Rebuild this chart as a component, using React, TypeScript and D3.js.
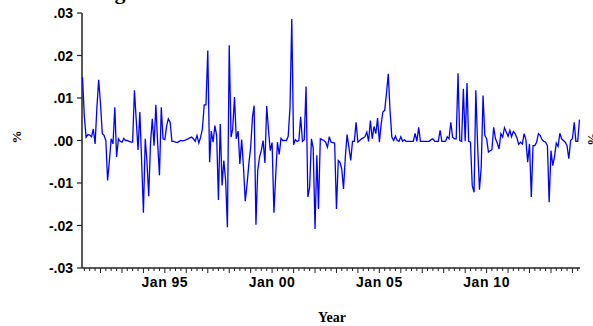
import React from "react";
import * as d3 from "d3";

// Monthly series (values in %-units of 0.01), starting March 1991
const startDate = new Date(1991, 2, 1);
const seriesValues: number[] = [
  // 1991-1996
  1.49, 0.55, 0.08, 0.14, 0.13, 0.09, 0.27, -0.08, 0.78, 1.43,
  0.86, 0.16, 0.12, 0.0, -0.94, -0.47, 0.04, -0.08, 0.78, -0.39,
  0.04, -0.02, -0.04, 0.05, 0.0, 0.0, -0.02, -0.04, -0.04, 1.18, 0.47,
  -0.22, 0.67, -0.47, -1.7, 0.04, -0.47, -1.31, -0.08, 0.51, -0.12,
  0.84, -0.08, -0.82, 0.78, 0.04, 0.02, 0.35, 0.51, 0.43, -0.02,
  -0.02, -0.04, -0.05, -0.02, 0.0, -0.01, 0.0, 0.02, 0.04, 0.06, 0.08,
  // 1996-2002
  0.04, -0.02, 0.12, -0.06, 0.08, 0.27, 0.84, 0.84, 2.12, -0.51,
  0.22, -0.04, 0.35, 0.12, -1.4, 0.39, -1.06, -0.47, -0.94, -2.04,
  2.24, 0.08, 0.27, 1.02, 0.04, 0.22, -0.55, 0.02, -0.63, -1.43,
  -1.02, -0.55, -0.16, 0.55, 0.82, -1.98, -0.71, -0.39, -0.24, 0.0,
  -0.53, 0.81, 0.24, -0.24, -0.05, -1.7, -0.86, -0.04, -0.33, 0.05,
  0.0, 0.0, 0.0, 0.1, 0.78, 2.86, -0.1, 0.02, -0.02, 0.0, 0.56,
  -0.02, 0.02, 1.27, -1.33, -1.1, 0.04, -0.18, -2.08, -0.35, -1.61,
  0.04, 0.02,
  // 2002-2008
  0.0, -0.04, -0.16, 0.09, -0.04, -0.05, -0.06, -1.61, -0.47, -0.51,
  -0.67, -1.14, -0.39, 0.14, -0.16, -0.47, -0.02, -0.02, 0.43, -0.04,
  0.0, 0.04, 0.06, 0.09, 0.2, -0.02, 0.47, 0.04, 0.33, 0.16,
  0.53, -0.04, 0.39, 0.67, 0.71, 1.1, 1.57, 0.71, 0.08, 0.0, 0.1,
  0.0, -0.02, 0.09, -0.02, 0.02, -0.02, -0.02, -0.02, -0.02, -0.02, 0.17,
  -0.02, 0.31, -0.02, -0.02, -0.02, -0.02, -0.02, -0.02, 0.02, 0.04,
  -0.02, -0.02, -0.02,
  // 2008-2014
  0.24, -0.02, -0.02, -0.02, 0.09, 0.04, 0.43, 0.08, 0.04, 0.04,
  1.58, 0.0, -0.02, 1.22, -0.02, 1.35, -0.02, -0.04, -1.06, -1.22,
  1.18, -0.12, -1.16, -0.63, 1.06, 0.12, 0.04, -0.27, -0.24, -0.22,
  0.31, 0.04, -0.06, -0.2, 0.16, 0.08, 0.3, 0.2, 0.1, 0.24, 0.09,
  0.21, 0.16, 0.06, -0.09, -0.04, -0.08, 0.16, 0.02, -0.51, -0.08,
  -1.33, -0.12, -0.12, -0.04, 0.16, 0.12, 0.02, -0.02, -0.04, -0.12,
  -1.45, -0.24, -0.59, -0.39, -0.06, -0.14, 0.17, 0.04, 0.0, -0.04, -0.12,
  -0.43, 0.0, 0.04, 0.43, -0.02, -0.02, 0.49,
];

const yTicks = [-0.03, -0.02, -0.01, 0, 0.01, 0.02, 0.03];
const xLabelYears = [1995, 2000, 2005, 2010];
const xAxisTitle = "Year";
const yAxisTitle = "%";

const W = 593;
const H = 326;

export default function App() {
  const data = seriesValues.map((v, i) => ({
    date: d3.timeMonth.offset(startDate, i),
    value: v / 100,
  }));

  const x = d3
    .scaleTime()
    .domain([new Date(1991, 1, 20), new Date(2014, 4, 10)])
    .range([82, 580]);
  const y = d3.scaleLinear().domain([-0.03, 0.03]).range([268, 13]);

  const line = d3
    .line<{ date: Date; value: number }>()
    .x((d) => x(d.date))
    .y((d) => y(d.value));

  const [d0, d1] = x.domain();
  const quarterTicks = d3.timeMonth.every(3)!.range(d0, d1);
  const yFmt = (d: number) =>
    (d < 0 ? "-" : "") + d3.format(".2f")(Math.abs(d)).slice(1);
  const axisColor = "#222";
  const sans = "'Liberation Sans', Arial, sans-serif";
  const serif = "'Liberation Serif', 'Times New Roman', serif";

  return (
    <svg
      width={W}
      height={H}
      style={{ position: "absolute", left: 0, top: 0, background: "#fff" }}
    >
      <text
        x={120}
        y={-1}
        textAnchor="middle"
        fontFamily={serif}
        fontWeight="bold"
        fontSize={22}
        fill="#000"
      >
        g
      </text>
      {/* y axis */}
      <line x1={82} x2={82} y1={y(0.03)} y2={y(-0.03)} stroke={axisColor} strokeWidth={1.5} />
      {yTicks.map((t) => (
        <g key={t}>
          <line x1={77} x2={82} y1={y(t)} y2={y(t)} stroke={axisColor} strokeWidth={1.2} />
          <text
            x={73}
            y={y(t)}
            dy="0.36em"
            textAnchor="end"
            fontFamily={sans}
            fontWeight="bold"
            fontSize={14}
            fill="#000"
          >
            {yFmt(t)}
          </text>
        </g>
      ))}
      {/* x axis */}
      <line x1={82} x2={580} y1={268} y2={268} stroke={axisColor} strokeWidth={1.5} />
      {quarterTicks.map((t) => (
        <line
          key={t.getTime()}
          x1={x(t)}
          x2={x(t)}
          y1={268}
          y2={t.getMonth() === 0 ? 273 : 271}
          stroke={axisColor}
          strokeWidth={1}
        />
      ))}
      {xLabelYears.map((yr) => (
        <text
          key={yr}
          x={x(new Date(yr, 0, 1))}
          y={287}
          textAnchor="middle"
          fontFamily={sans}
          fontWeight="bold"
          fontSize={14}
          letterSpacing={0.5}
          fill="#000"
        >
          {d3.timeFormat("Jan %y")(new Date(yr, 0, 1))}
        </text>
      ))}
      <text
        x={332}
        y={322}
        textAnchor="middle"
        fontFamily={serif}
        fontWeight="bold"
        fontSize={14}
        fill="#000"
      >
        {xAxisTitle}
      </text>
      <text
        transform={`translate(21,137) rotate(-90)`}
        textAnchor="middle"
        fontFamily={serif}
        fontWeight="bold"
        fontSize={13}
        fill="#000"
      >
        {yAxisTitle}
      </text>
      <text
        transform={`translate(588,139) rotate(90)`}
        textAnchor="middle"
        fontFamily={serif}
        fontWeight="bold"
        fontSize={13}
        fill="#000"
      >
        {yAxisTitle}
      </text>
      <path d={line(data) ?? ""} fill="none" stroke="#0000ff" strokeWidth={1.3} />
    </svg>
  );
}
